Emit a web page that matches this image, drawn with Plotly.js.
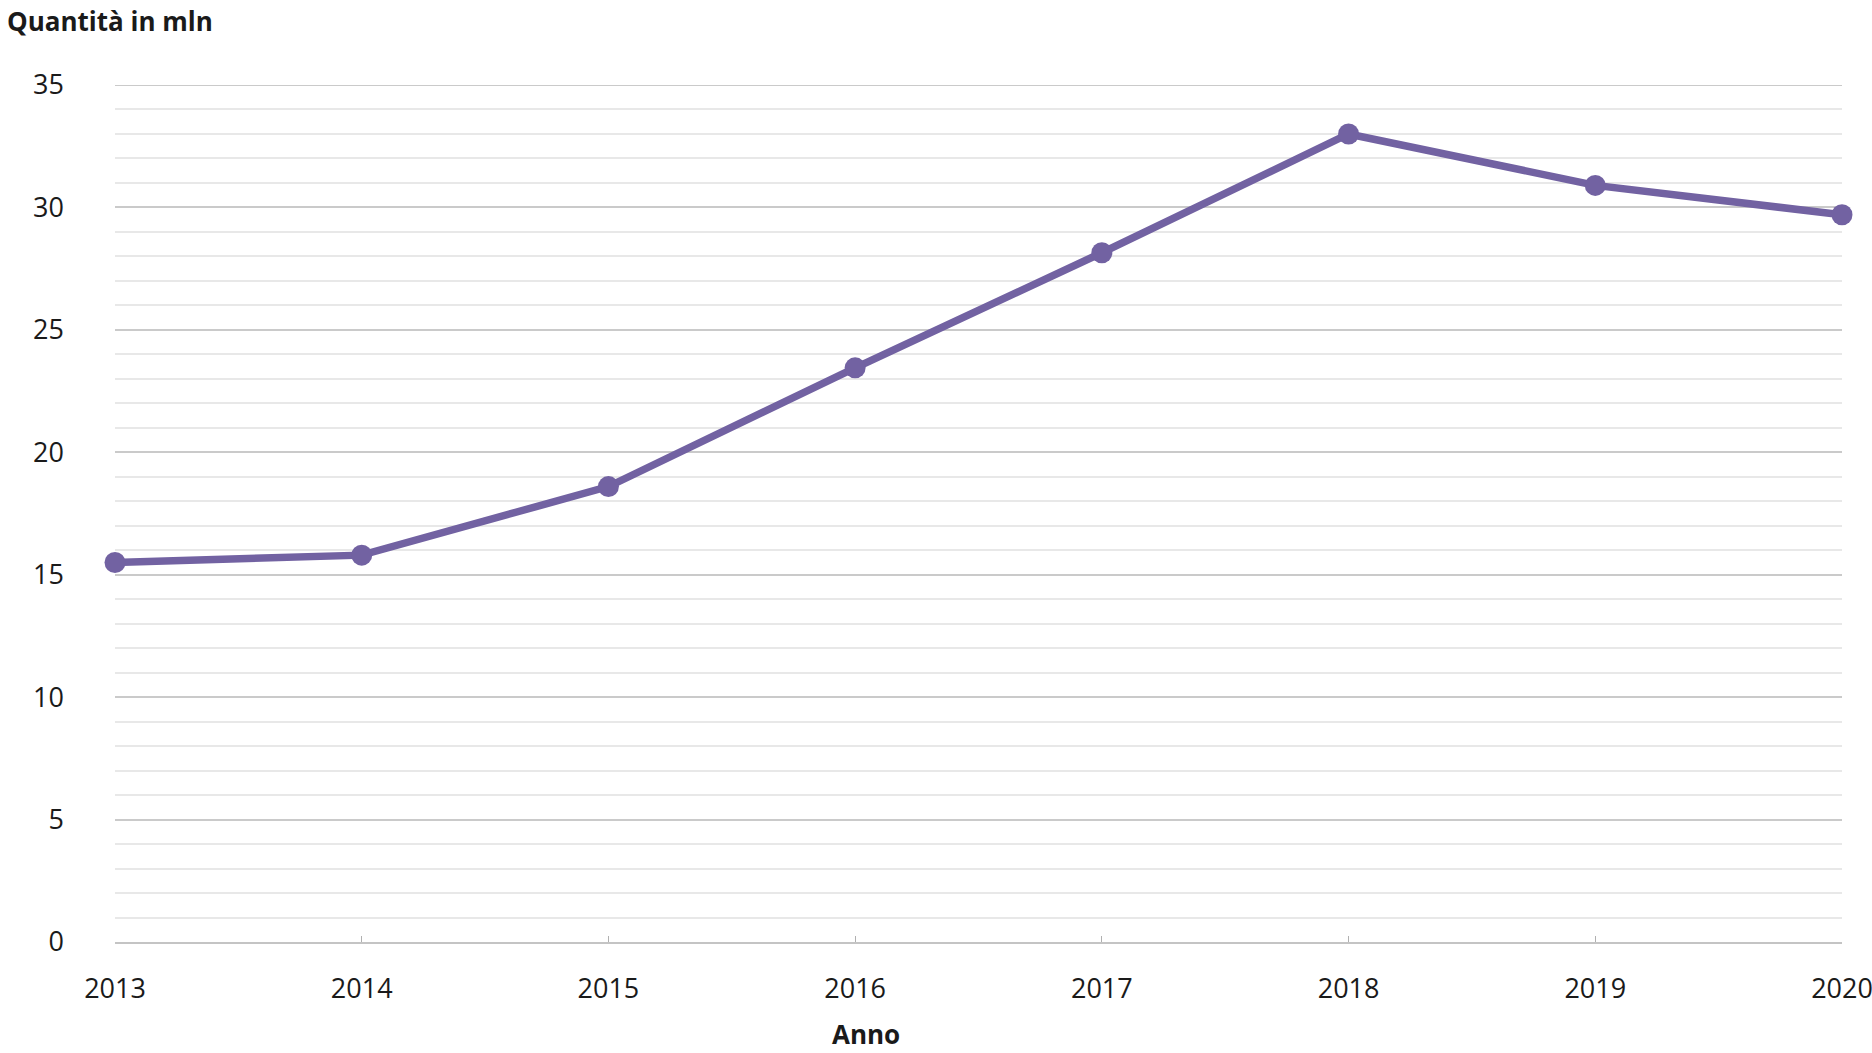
<!DOCTYPE html>
<html>
<head>
<meta charset="utf-8">
<script src="https://cdn.plot.ly/plotly-3.0.1.min.js"></script>
<style>
  html, body { margin: 0; padding: 0; background: #fff; }
  #chart { width: 1872px; height: 1053px; }
</style>
</head>
<body>
<div id="chart"></div>
<script>
var anni = [2013, 2014, 2015, 2016, 2017, 2018, 2019, 2020]
var quantita = [15.5, 15.8, 18.6, 23.45, 28.15, 33.0, 30.9, 29.7]
var yTicks = [0, 5, 10, 15, 20, 25, 30, 35]
var yMax = 35

var fontFam = 'Open Sans, Noto Sans, sans-serif'
var purple = '#7262a2'

var trace = {
  x: anni,
  y: quantita,
  type: 'scatter',
  mode: 'lines+markers',
  line: {color: purple, width: 7.5},
  marker: {color: purple, size: 21},
  cliponaxis: false,
  hoverinfo: 'x+y'
}

var layout = {
  width: 1872,
  height: 1053,
  margin: {l: 115, r: 30, t: 85, b: 111},
  paper_bgcolor: '#fff',
  plot_bgcolor: '#fff',
  showlegend: false,
  font: {family: fontFam, size: 27, color: '#1a1a1a'},
  xaxis: {
    range: [anni[0], anni[anni.length - 1]],
    tickvals: anni,
    ticktext: anni.map(String),
    showgrid: false,
    zeroline: false,
    showline: true,
    linecolor: '#c4c4c4',
    linewidth: 2,
    ticks: 'inside',
    ticklen: 6,
    tickwidth: 1,
    tickcolor: '#b0b0b0',
    ticklabelstandoff: 22,
    ticklabeloverflow: 'allow',
    tickfont: {family: fontFam, size: 27, color: '#1a1a1a'},
    fixedrange: true
  },
  yaxis: {
    range: [0, yMax],
    tickvals: yTicks,
    showgrid: true,
    gridcolor: '#cacaca',
    gridwidth: 2,
    zeroline: false,
    showline: false,
    ticks: '',
    ticklabelstandoff: 50,
    ticklabeloverflow: 'allow',
    tickfont: {family: fontFam, size: 27, color: '#1a1a1a'},
    minor: {dtick: 1, showgrid: true, gridcolor: '#e8e8e8', gridwidth: 2},
    fixedrange: true
  },
  shapes: [
    // top gridline at 35, which plotly drops at the plot edge
    {
      type: 'line', xref: 'paper', yref: 'y',
      x0: 0, x1: 1, y0: yMax, y1: yMax,
      line: {color: '#cacaca', width: 2},
      layer: 'below'
    }
  ],
  annotations: [
    {
      text: '<b>Quantità in mln</b>',
      xref: 'paper', yref: 'paper',
      x: -110 / 1727, y: 1,
      xanchor: 'left', yanchor: 'bottom',
      yshift: 44,
      showarrow: false,
      font: {family: fontFam, size: 26, color: '#1a1a1a'}
    },
    {
      text: '<b>Anno</b>',
      xref: 'paper', yref: 'paper',
      x: (866 - 115) / 1727, y: 0,
      xanchor: 'center', yanchor: 'top',
      yshift: -72,
      showarrow: false,
      font: {family: fontFam, size: 26, color: '#1a1a1a'}
    }
  ]
}

Plotly.newPlot('chart', [trace], layout, {displayModeBar: false, staticPlot: true})
</script>
</body>
</html>
